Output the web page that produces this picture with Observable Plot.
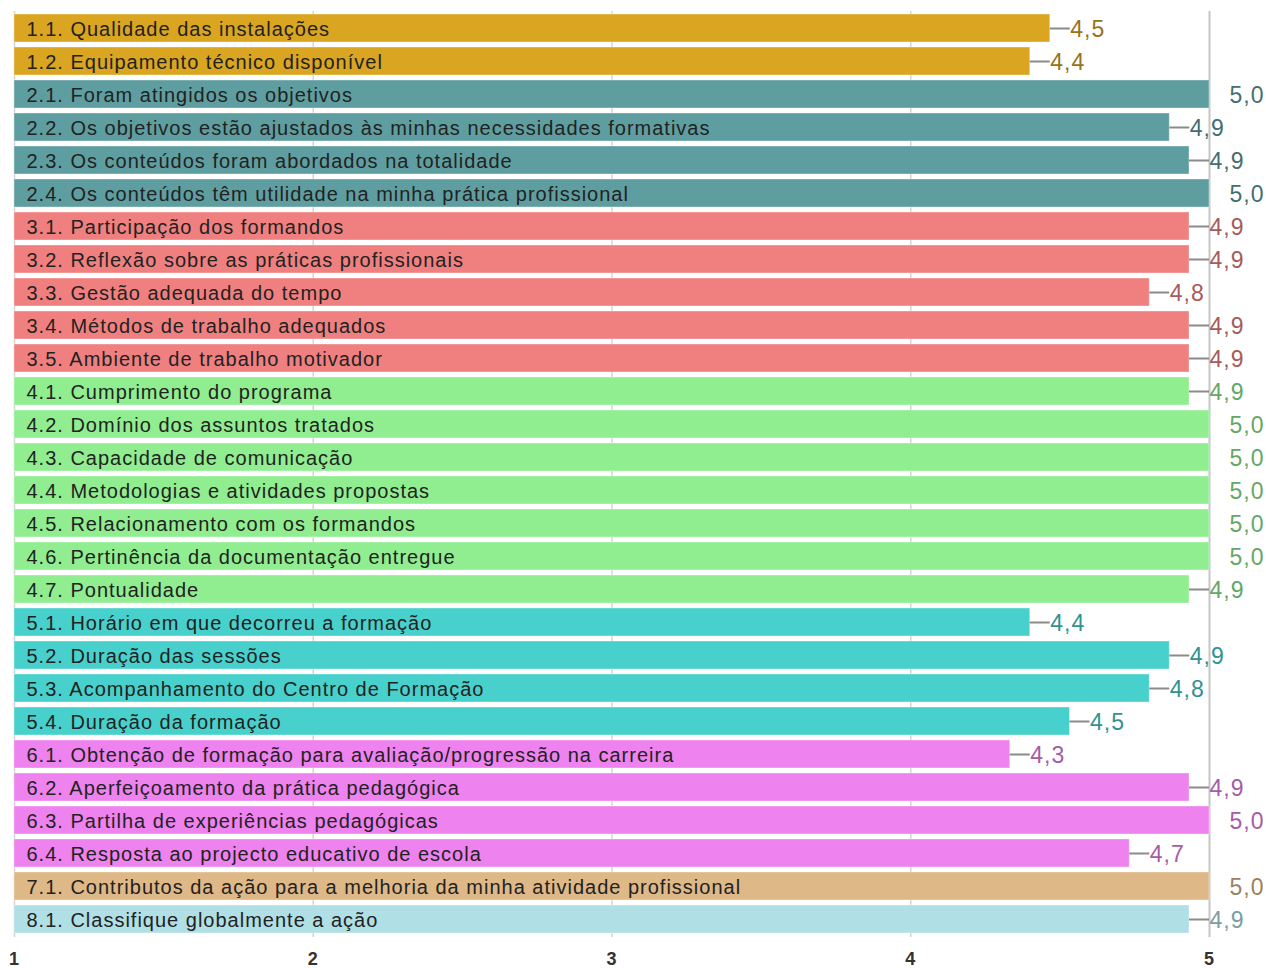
<!DOCTYPE html>
<html>
<head>
<meta charset="utf-8">
<script src="https://cdn.jsdelivr.net/npm/d3@7"></script>
<script src="https://cdn.jsdelivr.net/npm/@observablehq/plot@0.6"></script>
<style>
  html, body { margin: 0; padding: 0; background: white; }
</style>
</head>
<body>
<div id="chart"></div>
<script>
const labels = [
  "1.1. Qualidade das instalações",
  "1.2. Equipamento técnico disponível",
  "2.1. Foram atingidos os objetivos",
  "2.2. Os objetivos estão ajustados às minhas necessidades formativas",
  "2.3. Os conteúdos foram abordados na totalidade",
  "2.4. Os conteúdos têm utilidade na minha prática profissional",
  "3.1. Participação dos formandos",
  "3.2. Reflexão sobre as práticas profissionais",
  "3.3. Gestão adequada do tempo",
  "3.4. Métodos de trabalho adequados",
  "3.5. Ambiente de trabalho motivador",
  "4.1. Cumprimento do programa",
  "4.2. Domínio dos assuntos tratados",
  "4.3. Capacidade de comunicação",
  "4.4. Metodologias e atividades propostas",
  "4.5. Relacionamento com os formandos",
  "4.6. Pertinência da documentação entregue",
  "4.7. Pontualidade",
  "5.1. Horário em que decorreu a formação",
  "5.2. Duração das sessões",
  "5.3. Acompanhamento do Centro de Formação",
  "5.4. Duração da formação",
  "6.1. Obtenção de formação para avaliação/progressão na carreira",
  "6.2. Aperfeiçoamento da prática pedagógica",
  "6.3. Partilha de experiências pedagógicas",
  "6.4. Resposta ao projecto educativo de escola",
  "7.1. Contributos da ação para a melhoria da minha atividade profissional",
  "8.1. Classifique globalmente a ação"
];
const values = [4.467, 4.4, 5.0, 4.867, 4.933, 5.0, 4.933, 4.933, 4.8, 4.933, 4.933, 4.933, 5.0, 5.0, 5.0, 5.0, 5.0, 4.933, 4.4, 4.867, 4.8, 4.533, 4.333, 4.933, 5.0, 4.733, 5.0, 4.933];
const groups = ["1", "2", "3", "4", "5", "6", "7", "8"];
const groupColors = ["goldenrod", "cadetblue", "lightcoral", "lightgreen", "mediumturquoise", "violet", "burlywood", "powderblue"];
const xTicks = [1, 2, 3, 4, 5];
const baseline = 1;

const data = labels.map((label, i) => ({
  label,
  value: values[i],
  group: label.split(".")[0]
}));

const colorOf = new Map(groups.map((g, i) => [g, groupColors[i]]));
const labelColorOf = new Map(groups.map((g, i) => [g, d3.color(groupColors[i]).darker(1).formatHex()]));
const fmt = v => d3.format(".1f")(v).replace(".", ",");

const W = 1266, H = 968;
const mLeft = 14, mRight = 57;
const xMin = xTicks[0], xMax = xTicks[xTicks.length - 1];
const pxPerUnit = (W - mLeft - mRight) / (xMax - xMin);
const leaderPx = 20;

const chart = Plot.plot({
  width: W,
  height: H,
  marginLeft: mLeft,
  marginRight: mRight,
  marginTop: 11,
  marginBottom: 31,
  style: {fontFamily: "'Liberation Sans', Arial, sans-serif", letterSpacing: "1px", background: "white", overflow: "visible"},
  x: {domain: [xMin, xMax], label: null},
  y: {domain: labels, paddingInner: 0.15, paddingOuter: 0.075, axis: null, label: null},
  marks: [
    Plot.gridX(xTicks.slice(0, -1), {stroke: "#d4d4d4", strokeOpacity: 1, strokeWidth: 1.5}),
    Plot.gridX([xMax], {stroke: "#c6c6c6", strokeOpacity: 1, strokeWidth: 2}),
    Plot.barX(data, {
      y: "label",
      x1: baseline,
      x2: "value",
      fill: d => colorOf.get(d.group),
      stroke: "white",
      strokeOpacity: 0.35,
      strokeWidth: 1
    }),
    Plot.ruleY(data, {
      y: "label",
      x1: "value",
      x2: d => d.value + leaderPx / pxPerUnit,
      stroke: "#8a8a8a",
      strokeWidth: 2,
      clip: true
    }),
    Plot.text(data, {
      y: "label",
      x: baseline,
      text: "label",
      textAnchor: "start",
      dx: 12,
      dy: 1,
      fontSize: 20,
      fill: "#222"
    }),
    Plot.text(data, {
      y: "label",
      x: "value",
      text: d => fmt(d.value),
      textAnchor: "start",
      dx: leaderPx,
      dy: 1,
      fontSize: 23,
      fill: d => labelColorOf.get(d.group)
    }),
    Plot.axisX(xTicks, {
      tickSize: 0,
      tickPadding: 15,
      tickFormat: d3.format("d"),
      fontSize: 18,
      fontWeight: "bold",
      fill: "#333",
      label: null
    })
  ]
});

document.getElementById("chart").appendChild(chart);
</script>
</body>
</html>
